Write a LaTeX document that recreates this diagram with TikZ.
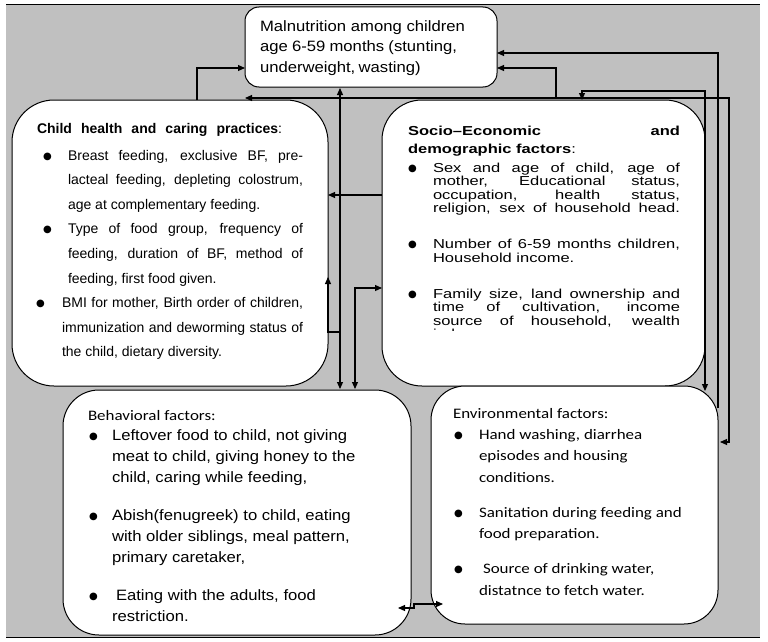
\documentclass[tikz,border=0pt]{standalone}
\usepackage{fontspec}
\setmainfont{Liberation Sans}
\newfontfamily\fA[FakeStretch=1.11]{Liberation Sans}
\newfontfamily\fS[FakeStretch=1.27]{Liberation Sans}
\newfontfamily\fC{Liberation Sans}
\newfontfamily\fE[FakeStretch=1.17]{Carlito}
\newfontfamily\fB{DejaVu Sans}
\usetikzlibrary{arrows.meta}
\definecolor{bg}{RGB}{192,192,192}
\newcommand\jl[2]{\makebox[#1][s]{#2}}
\newcommand\bul{\raisebox{1pt}{\fB\fontsize{10}{10}\selectfont ●}}
\newcommand\bl[3]{\hspace*{#1}\makebox[\dimexpr#2-#1\relax][l]{\bul}#3}
\begin{document}
\begin{tikzpicture}[x=1pt,y=-1pt,
  box/.style={draw, fill=white, line width=1pt, inner sep=0pt, outer sep=0pt, anchor=north west},
  arr/.style={line width=1.1pt, -{Triangle[length=7pt,width=6pt]}},
  darr/.style={line width=1.1pt, {Triangle[length=7pt,width=6pt]}-{Triangle[length=7pt,width=6pt]}},
  txt/.style={anchor=base west, inner sep=0pt, outer sep=0pt}]
\useasboundingbox (0,0) rectangle (768,642);
\fill[bg] (6,5) rectangle (760,637);
\draw[line width=1pt] (6,5) -- (760,5);
\draw[line width=1pt] (6,637) -- (760,637);

% boxes
\node[box, rounded corners=42pt, minimum width=316pt, minimum height=286pt] (child) at (12,100) {};
\node[box, rounded corners=40pt, minimum width=323pt, minimum height=286pt] (socio) at (382,100) {};
\node[box, rounded corners=36pt, minimum width=348pt, minimum height=245pt] (beh) at (63,390) {};
\node[box, rounded corners=34pt, minimum width=287pt, minimum height=238pt] (env) at (431,386) {};
\node[box, rounded corners=14pt, minimum width=252pt, minimum height=80pt] (mal) at (245,7) {};

% texts
\node[txt] (maltext) at (260,32) {\parbox[t]{230pt}{\fA\fontsize{15}{20}\selectfont
\jl{205pt}{Malnutrition among children}\\
\jl{197pt}{age 6-59 months (stunting,}\\
\jl{153pt}{underweight, wasting)}}};

\node[txt] (childtext) at (37,133.3) {\parbox[t]{290pt}{\fC\fontsize{14}{24.6}\selectfont
\jl{245pt}{\textbf{Child health and caring practices}:}\\[2.1pt]
\bl{6pt}{31pt}{\jl{235pt}{Breast feeding, exclusive BF, pre-}}\\
\hspace*{31pt}\jl{235pt}{lacteal feeding, depleting colostrum,}\\
\hspace*{31pt}age at complementary feeding.\\
\bl{6pt}{31pt}{\jl{235pt}{Type of food group, frequency of}}\\
\hspace*{31pt}\jl{235pt}{feeding, duration of BF, method of}\\
\hspace*{31pt}feeding, first food given.\\
\bl{-1pt}{25pt}{\jl{241pt}{BMI for mother, Birth order of children,}}\\
\hspace*{25pt}\jl{241pt}{immunization and deworming status of}\\
\hspace*{25pt}the child, dietary diversity.}};

\begin{scope}
\clip (382,100) rectangle (705,330.5);
\node[txt] (sociotext) at (408,135.7) {\parbox[t]{290pt}{\fS\fontsize{13}{13.2}\selectfont
\jl{272pt}{\textbf{Socio–Economic and}}\\[4.1pt]
\textbf{demographic factors}:\\[6.5pt]
\bl{0pt}{25pt}{\jl{247pt}{Sex and age of child, age of}}\\
\hspace*{25pt}\jl{247pt}{mother, Educational status,}\\
\hspace*{25pt}\jl{247pt}{occupation, health status,}\\
\hspace*{25pt}\jl{247pt}{religion, sex of household head.}\\[23.4pt]
\bl{0pt}{25pt}{\jl{247pt}{Number of 6-59 months children,}}\\
\hspace*{25pt}Household income.\\[23.4pt]
\bl{0pt}{25pt}{\jl{247pt}{Family size, land ownership and}}\\
\hspace*{25pt}\jl{247pt}{time of cultivation, income}\\
\hspace*{25pt}\jl{247pt}{source of household, wealth}\\
\hspace*{25pt}index.}};
\end{scope}

\node[txt] (behtext) at (88,420) {\parbox[t]{310pt}{\fA\fontsize{15}{20.8}\selectfont
{\fE\fontsize{14.5}{20.8}\selectfont Behavioral factors:}\\
\bl{1pt}{24pt}{Leftover food to child, not giving}\\
\hspace*{24pt}meat to child, giving honey to the\\
\hspace*{24pt}child, caring while feeding,\\[17.6pt]
\bl{1pt}{24pt}{Abish(fenugreek) to child, eating}\\
\hspace*{24pt}with older siblings, meal pattern,\\
\hspace*{24pt}primary caretaker,\\[17.6pt]
\bl{1pt}{24pt}{\hspace*{4pt}Eating with the adults, food}\\
\hspace*{24pt}restriction.}};

\node[txt] (envtext) at (453,418) {\parbox[t]{260pt}{\fE\fontsize{14.5}{21.5}\selectfont
Environmental factors:\\[-0.5pt]
\bl{1pt}{26pt}{Hand washing, diarrhea}\\
\hspace*{26pt}episodes and housing\\
\hspace*{26pt}conditions.\\[13.5pt]
\bl{1pt}{26pt}{Sanitation during feeding and}\\
\hspace*{26pt}food preparation.\\[13.5pt]
\bl{1pt}{26pt}{\hspace*{4pt}Source of drinking water,}\\
\hspace*{26pt}distatnce to fetch water.}};

% connector points
\coordinate (cA) at (197,100); \coordinate (mA) at (245,68);
\coordinate (cB) at (245,98); \coordinate (kB) at (729,98); \coordinate (eB) at (720,442);
\coordinate (sC) at (556,98); \coordinate (mC) at (497,68);
\coordinate (eD) at (718,408); \coordinate (mD) at (497,53);
\coordinate (sE) at (582,100); \coordinate (sE2) at (582,91); \coordinate (eE) at (705,391);
\coordinate (mF) at (340,88); \coordinate (bF) at (340,389);
\coordinate (sG) at (382,195); \coordinate (cG) at (328,195);
\coordinate (fH) at (340,332); \coordinate (cH) at (328,277);
\coordinate (bI) at (355,389); \coordinate (sI) at (382,288);
\coordinate (bJ) at (398,608); \coordinate (jJ) at (414,608); \coordinate (eJ) at (443,604);

\draw[arr] (cA) |- (mA);
\draw[darr] (cB) -- (kB) |- (eB);
\draw[arr] (sC) |- (mC);
\draw[arr] (eD) |- (mD);
\draw[darr] (sE) -- (sE2) -| (eE);
\draw[darr] (mF) -- (bF);
\draw[arr] (sG) -- (cG);
\draw[arr] (fH) -| (cH);
\draw[darr] (bI) |- (sI);
\draw[darr] (bJ) -- (jJ) |- (eJ);
\end{tikzpicture}
\end{document}
